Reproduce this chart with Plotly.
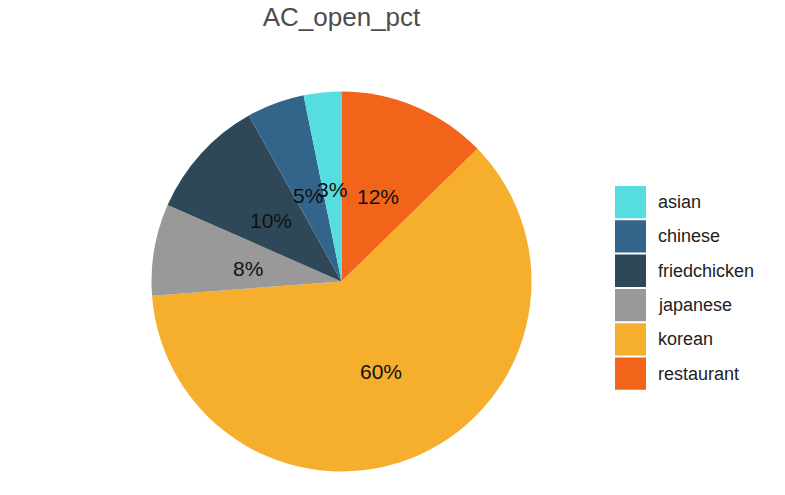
import math
import plotly.graph_objects as go

categories = ["asian", "chinese", "friedchicken", "japanese", "korean", "restaurant"]
values = [3.2, 4.9, 10.3, 7.8, 61.1, 12.7]
pct_labels = ["3%", "5%", "10%", "8%", "60%", "12%"]
colors = ["#55DDE0", "#33658A", "#2F4858", "#999999", "#F6AE2D", "#F26419"]

W, H = 785, 495
OFF = 8  # page body margin
cx, cy, R = 341.5 - OFF, 281.5 - OFF, 190  # pie center/radius in figure pixels

dom_x = [(cx - R) / W, (cx + R) / W]
dom_y = [(H - cy - R) / H, (H - cy + R) / H]

# pie drawn clockwise from 12 o'clock, last category first (ggplot stacking order)
order = list(range(len(categories)))[::-1]
fig = go.Figure()
fig.add_trace(go.Pie(
    labels=[categories[i] for i in order], values=[values[i] for i in order],
    sort=False, direction="clockwise", rotation=0,
    marker=dict(colors=[colors[i] for i in order], line=dict(width=0)),
    textinfo="none", hoverinfo="label+percent", showlegend=False,
    domain=dict(x=dom_x, y=dom_y),
))

annotations = []
total = sum(values)
cum = 0.0
for i in order:
    v = values[i]
    mid = (cum + v / 2) / total * 2 * math.pi
    cum += v
    px = cx + 0.5 * R * math.sin(mid)
    py = cy - 0.5 * R * math.cos(mid) + 3
    annotations.append(dict(x=px / W, y=1 - py / H, xref="paper", yref="paper",
                            xanchor="center", yanchor="middle",
                            text=pct_labels[i], showarrow=False,
                            font=dict(family="Liberation Sans, Arial", size=21, color="#111111")))

# legend keys
shapes = []
lx0, ly0, kw, kh = 615 - OFF, 185 - OFF, 31, 34.3
for i, (cat, col) in enumerate(zip(categories, colors)):
    top = ly0 + i * kh
    shapes.append(dict(type="rect", xref="paper", yref="paper",
                       x0=lx0 / W, x1=(lx0 + kw) / W,
                       y0=1 - (top + kh - 1) / H, y1=1 - (top + 1) / H,
                       fillcolor=col, line=dict(width=0)))
    annotations.append(dict(x=(lx0 + kw + 10) / W, y=1 - (top + kh / 2) / H,
                            xref="paper", yref="paper", xanchor="left", yanchor="middle",
                            text=cat, showarrow=False,
                            font=dict(family="Liberation Sans, Arial", size=18, color="#222222")))

fig.update_layout(
    width=W, height=H, margin=dict(l=0, r=0, t=0, b=0),
    paper_bgcolor="white", plot_bgcolor="white",
    title=dict(text="AC_open_pct", x=cx / W, xanchor="center", y=1, yanchor="top",
               font=dict(family="Liberation Sans, Arial", size=26, color="#4D4D4D")),
    annotations=annotations, shapes=shapes,
)
fig.write_html("out.html")
